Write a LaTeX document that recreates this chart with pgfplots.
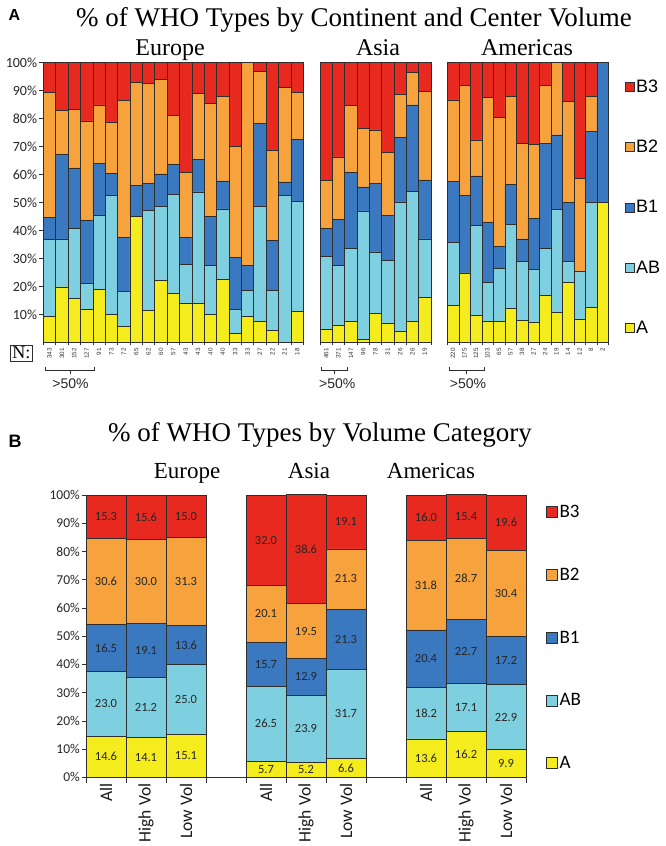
\documentclass[border=0pt]{standalone}
\usepackage{pgfplots}
\pgfplotsset{compat=1.18}
\usepackage{pgfplotstable}
\usepackage{fontspec}
\setmainfont{Liberation Serif}
\newfontfamily\calfont{Carlito}
\newfontfamily\arialfont{Liberation Sans}
\definecolor{cB3}{HTML}{E8291F}
\definecolor{cB2}{HTML}{F7A33D}
\definecolor{cB1}{HTML}{3A78C0}
\definecolor{cAB}{HTML}{7ED0E0}
\definecolor{cA}{HTML}{F4EC1C}
\definecolor{edge}{HTML}{2E2E2E}

% Panel A: segment values (%), A, AB, B1, B2, B3
\pgfplotstableread{
x A AB B1 B2 B3
0 9.3 27.4 7.9 44.7 10.7
1 19.8 17.2 30.3 15.6 17.1
2 15.8 25.0 21.6 20.9 16.7
3 11.9 9.3 22.3 35.7 20.8
4 18.8 26.6 18.6 20.9 15.1
5 10.0 42.4 8.1 18.1 21.4
6 5.6 12.5 19.5 48.8 13.6
7 45.0 0 11.0 37.0 7.0
8 11.4 35.7 9.7 35.7 7.5
9 22.0 26.6 11.6 33.7 6.1
10 17.6 35.4 10.5 17.7 18.8
11 13.8 14.2 9.5 23.2 39.3
12 13.8 40.0 11.7 23.5 11.0
13 10.0 17.6 17.5 40.4 14.5
14 22.6 25.1 10.0 30.2 12.1
15 3.2 8.7 18.6 39.5 30.0
16 9.4 9.1 8.9 72.6 0
17 7.4 41.2 29.7 18.5 3.2
18 4.4 14.1 17.9 32.1 31.5
19 0 52.5 4.9 33.7 8.9
20 11.1 39.3 22.2 16.7 10.7
}\eurA
\pgfplotstableread{
x A AB B1 B2 B3
0 4.5 26.1 10.1 17.2 42.1
1 6.1 21.3 16.5 22.4 33.7
2 7.5 26.0 27.3 23.8 15.4
3 1.1 45.9 8.6 20.8 23.6
4 10.2 22.1 24.4 19.3 24.0
5 6.7 22.6 16.2 22.5 32.0
6 3.8 46.4 23.1 15.4 11.3
7 7.6 46.3 31.0 11.5 3.6
8 16.0 21.0 21.1 31.7 10.2
}\asiA
\pgfplotstableread{
x A AB B1 B2 B3
0 13.2 22.5 21.8 29.2 13.3
1 24.8 0 27.6 39.4 8.2
2 9.6 32.2 17.7 12.9 27.6
3 7.6 13.9 21.5 44.6 12.4
4 7.6 18.9 7.8 46.1 19.6
5 12.0 30.3 14.1 31.5 12.1
6 7.9 21.1 8.0 34.2 28.8
7 7.3 18.7 18.4 26.3 29.3
8 16.7 16.8 37.6 20.8 8.1
9 10.6 36.8 26.8 25.8 0
10 21.4 7.4 21.3 36.0 13.9
11 8.2 17.2 0 33.3 41.3
12 12.5 37.6 25.3 12.5 12.1
13 50.0 0 50.0 0 0
}\amrA
% Panel B
\pgfplotstableread{
x A AB B1 B2 B3
0 14.6 23.0 16.5 30.6 15.3
1 14.1 21.2 19.1 30.0 15.6
2 15.1 25.0 13.6 31.3 15.0
4 5.7 26.5 15.7 20.1 32.0
5 5.2 23.9 12.9 19.5 38.6
6 6.6 31.7 21.3 21.3 19.1
8 13.6 18.2 20.4 31.8 16.0
9 16.2 17.1 22.7 28.7 15.4
10 9.9 22.9 17.2 30.4 19.6
}\volB
% label positions (segment midpoints) for panel B
\pgfplotstableread{
x y lab
0 7.3 14.6
0 26.1 23.0
0 45.85 16.5
0 69.4 30.6
0 92.35 15.3
1 7.05 14.1
1 24.7 21.2
1 44.85 19.1
1 69.4 30.0
1 92.2 15.6
2 7.55 15.1
2 27.6 25.0
2 46.9 13.6
2 69.35 31.3
2 92.5 15.0
4 2.85 5.7
4 18.95 26.5
4 40.05 15.7
4 57.95 20.1
4 84.0 32.0
5 2.6 5.2
5 17.15 23.9
5 35.55 12.9
5 51.75 19.5
5 80.8 38.6
6 3.3 6.6
6 22.45 31.7
6 48.95 21.3
6 70.25 21.3
6 90.45 19.1
8 6.8 13.6
8 22.7 18.2
8 42.0 20.4
8 68.1 31.8
8 92.0 16.0
9 8.1 16.2
9 24.75 17.1
9 44.65 22.7
9 70.35 28.7
9 92.35 15.4
10 4.95 9.9
10 21.35 22.9
10 41.4 17.2
10 65.2 30.4
10 90.2 19.6
}\labB

\tikzset{bracketlbl/.style={font=\arialfont\fontsize{14}{14}\selectfont, text=black!85}}
\pgfplotsset{
  sqA/.style={legend image code/.code={\draw[##1] (0pt,-4.5pt) rectangle (9pt,4.5pt);}},
  sqB/.style={legend image code/.code={\draw[##1] (0pt,-5.5pt) rectangle (11pt,5.5pt);}},
  stackbase/.style={ybar stacked, bar width=1, scale only axis, clip=false,
    ymin=0, ymax=100, tick align=outside,
    every axis plot/.append style={draw=edge, line width=0.6pt},
    axis line style={draw=edge, line width=0.7pt},
    every tick/.style={draw=edge, line width=0.6pt},
    major x tick style={draw=none}},
  panelA/.style={stackbase, height=279.6pt, axis x line*=bottom,
    minor tick length=3pt, major tick length=4pt,
    xticklabel style={rotate=90, anchor=east, inner sep=1.5pt,
      font=\arialfont\fontsize{6.3}{6.3}\selectfont, text=black!80}},
}

\begin{document}
\begin{tikzpicture}
\path[use as bounding box] (0pt,0pt) rectangle (666pt,-846pt);

% ---------------- Panel A ----------------
\node[anchor=base west, font=\arialfont\bfseries\fontsize{16}{16}\selectfont] at (5pt,-20pt) {A};
\node[anchor=base, font=\fontsize{27}{27}\selectfont] at (354pt,-26pt) {\% of WHO Types by Continent and Center Volume};
\node[anchor=base, font=\fontsize{24}{24}\selectfont] at (170pt,-55pt) {Europe};
\node[anchor=base, font=\fontsize{24}{24}\selectfont] at (378pt,-55pt) {Asia};
\node[anchor=base, font=\fontsize{24}{24}\selectfont] at (527pt,-55pt) {Americas};

\begin{axis}[panelA, at={(43.3pt,-342.3pt)}, anchor=south west, width=260pt,
  xmin=-0.5, xmax=20.5, axis y line*=left,
  xtick={0,...,20}, minor xtick={-0.5,0.5,...,20.5},
  xticklabels={343,301,152,127,91,73,72,65,62,60,57,43,43,40,40,33,33,27,22,21,18},
  ytick={10,20,...,100},
  yticklabels={10\%,20\%,30\%,40\%,50\%,60\%,70\%,80\%,90\%,100\%},
  yticklabel style={font=\calfont\fontsize{14}{14}\selectfont, text=black!85, inner sep=2pt}]
\addplot[fill=cA] table[x=x,y=A]{\eurA};
\addplot[fill=cAB] table[x=x,y=AB]{\eurA};
\addplot[fill=cB1] table[x=x,y=B1]{\eurA};
\addplot[fill=cB2] table[x=x,y=B2]{\eurA};
\addplot[fill=cB3] table[x=x,y=B3]{\eurA};
\draw[edge, line width=1pt] (axis cs:-0.3,-8.8) -- (axis cs:-0.3,-10.2) -- (axis cs:3.65,-10.2) -- (axis cs:3.65,-8.8);
\draw[edge, line width=1pt] (axis cs:1.7,-10.2) -- (axis cs:1.7,-11.2);
\node[bracketlbl] at (axis cs:1.7,-14.9) {>50\%};
\end{axis}

\begin{axis}[panelA, at={(320pt,-342.3pt)}, anchor=south west, width=111pt,
  xmin=-0.5, xmax=8.5, axis y line=none, ytick=\empty,
  xtick={0,...,8}, minor xtick={-0.5,0.5,...,8.5},
  xticklabels={461,371,147,96,78,31,26,26,19}]
\addplot[fill=cA] table[x=x,y=A]{\asiA};
\addplot[fill=cAB] table[x=x,y=AB]{\asiA};
\addplot[fill=cB1] table[x=x,y=B1]{\asiA};
\addplot[fill=cB2] table[x=x,y=B2]{\asiA};
\addplot[fill=cB3] table[x=x,y=B3]{\asiA};
\draw[edge, line width=1pt] (axis cs:-0.4,-8.8) -- (axis cs:-0.4,-10.2) -- (axis cs:1.7,-10.2) -- (axis cs:1.7,-8.8);
\draw[edge, line width=1pt] (axis cs:0.65,-10.2) -- (axis cs:0.65,-11.2);
\node[bracketlbl] at (axis cs:0.9,-14.9) {>50\%};
\end{axis}

\begin{axis}[panelA, at={(447.3pt,-342.3pt)}, anchor=south west, width=161pt,
  xmin=-0.5, xmax=13.5, axis y line=none, ytick=\empty,
  xtick={0,...,13}, minor xtick={-0.5,0.5,...,13.5},
  xticklabels={220,175,125,103,65,57,38,27,24,19,14,12,8,2},
  legend style={draw=none, fill=none, at={(rel axis cs:1.10,0.948)}, anchor=north west,
    row sep=42.5pt, inner sep=0pt, font=\arialfont\fontsize{18}{18}\selectfont,
    nodes={inner sep=2pt}},
  legend cell align=left]
\addplot[fill=cA, forget plot] table[x=x,y=A]{\amrA};
\addplot[fill=cAB, forget plot] table[x=x,y=AB]{\amrA};
\addplot[fill=cB1, forget plot] table[x=x,y=B1]{\amrA};
\addplot[fill=cB2, forget plot] table[x=x,y=B2]{\amrA};
\addplot[fill=cB3, forget plot] table[x=x,y=B3]{\amrA};
\addlegendimage{sqA, fill=cB3, draw=edge, line width=0.6pt}\addlegendentry{B3}
\addlegendimage{sqA, fill=cB2, draw=edge, line width=0.6pt}\addlegendentry{B2}
\addlegendimage{sqA, fill=cB1, draw=edge, line width=0.6pt}\addlegendentry{B1}
\addlegendimage{sqA, fill=cAB, draw=edge, line width=0.6pt}\addlegendentry{AB}
\addlegendimage{sqA, fill=cA, draw=edge, line width=0.6pt}\addlegendentry{A}
\draw[edge, line width=1pt] (axis cs:-0.3,-8.8) -- (axis cs:-0.3,-10.2) -- (axis cs:2.75,-10.2) -- (axis cs:2.75,-8.8);
\draw[edge, line width=1pt] (axis cs:1.2,-10.2) -- (axis cs:1.2,-11.2);
\node[bracketlbl] at (axis cs:1.3,-14.9) {>50\%};
\end{axis}

\node[draw=edge, line width=0.7pt, inner sep=2pt, font=\fontsize{18}{18}\selectfont] at (21.5pt,-353pt) {N:};

% ---------------- Panel B ----------------
\node[anchor=base west, font=\arialfont\bfseries\fontsize{18}{18}\selectfont] at (5pt,-447pt) {B};
\node[anchor=base, font=\fontsize{27}{27}\selectfont] at (320pt,-441pt) {\% of WHO Types by Volume Category};
\node[anchor=base, font=\fontsize{23}{23}\selectfont] at (187pt,-478pt) {Europe};
\node[anchor=base, font=\fontsize{23}{23}\selectfont] at (309pt,-478pt) {Asia};
\node[anchor=base, font=\fontsize{23}{23}\selectfont] at (431pt,-478pt) {Americas};

\begin{axis}[stackbase, at={(86pt,-777.3pt)}, anchor=south west, width=440pt, height=282.3pt,
  xmin=-0.5, xmax=10.5, axis x line*=bottom, axis y line*=left,
  xtick={0,1,2,4,5,6,8,9,10}, minor xtick={-0.5,0.5,...,10.5},
  minor tick length=6pt, major tick length=4pt,
  xticklabels={All,High Vol,Low Vol,All,High Vol,Low Vol,All,High Vol,Low Vol},
  xticklabel style={rotate=90, anchor=east, inner sep=2pt,
    font=\calfont\fontsize{17.5}{17.5}\selectfont, text=black!90},
  ytick={0,10,...,100},
  yticklabels={0\%,10\%,20\%,30\%,40\%,50\%,60\%,70\%,80\%,90\%,100\%},
  yticklabel style={font=\calfont\fontsize{13.5}{13.5}\selectfont, text=black!85, inner sep=2pt},
  legend style={draw=none, fill=none, at={(rel axis cs:1.045,0.972)}, anchor=north west,
    row sep=45pt, inner sep=0pt, font=\calfont\fontsize{19}{19}\selectfont,
    nodes={inner sep=2pt}},
  legend cell align=left]
\addplot[fill=cA, forget plot] table[x=x,y=A]{\volB};
\addplot[fill=cAB, forget plot] table[x=x,y=AB]{\volB};
\addplot[fill=cB1, forget plot] table[x=x,y=B1]{\volB};
\addplot[fill=cB2, forget plot] table[x=x,y=B2]{\volB};
\addplot[fill=cB3, forget plot] table[x=x,y=B3]{\volB};
\addlegendimage{sqB, fill=cB3, draw=edge, line width=0.6pt}\addlegendentry{B3}
\addlegendimage{sqB, fill=cB2, draw=edge, line width=0.6pt}\addlegendentry{B2}
\addlegendimage{sqB, fill=cB1, draw=edge, line width=0.6pt}\addlegendentry{B1}
\addlegendimage{sqB, fill=cAB, draw=edge, line width=0.6pt}\addlegendentry{AB}
\addlegendimage{sqB, fill=cA, draw=edge, line width=0.6pt}\addlegendentry{A}
\end{axis}

\begin{axis}[at={(86pt,-777.3pt)}, anchor=south west, scale only axis, width=440pt, height=282.3pt,
  xmin=-0.5, xmax=10.5, ymin=0, ymax=100, axis lines=none, clip=false]
\addplot[draw=none, mark=none, nodes near coords, point meta=explicit symbolic,
  nodes near coords style={anchor=center, font=\calfont\fontsize{12.5}{12.5}\selectfont, text=black!85}]
  table[x=x, y=y, meta=lab]{\labB};
\end{axis}
\end{tikzpicture}
\end{document}
